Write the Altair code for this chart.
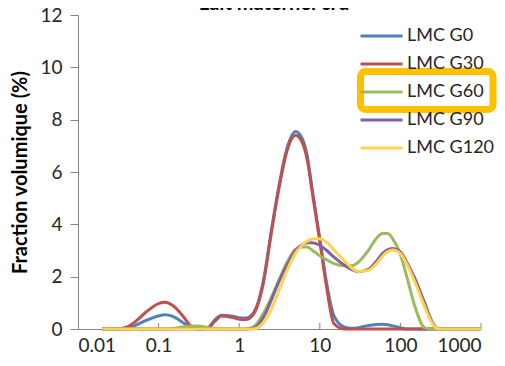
import altair as alt
import pandas as pd

SIZES = [0.02, 0.03, 0.04, 0.05, 0.07, 0.1, 0.12, 0.15, 0.2, 0.25, 0.3, 0.4, 0.5, 0.6, 0.8,
         1, 1.2, 1.5, 2, 2.5, 3, 4, 5, 6, 7, 8, 10, 12, 15, 20, 25, 30, 40, 50, 60, 70, 80,
         100, 120, 150, 200, 250, 300, 400, 500, 700, 1000]

G0 = [0, 0, 0.03, 0.12, 0.33, 0.5, 0.54, 0.48, 0.25, 0.06, 0, 0.02, 0.35, 0.53, 0.5,
      0.43, 0.42, 0.62, 1.85, 3.75, 5.2, 7.0, 7.55, 7.3, 6.6, 5.4, 3.45, 1.85, 0.5, 0.08, 0.03, 0.05, 0.13, 0.17, 0.18, 0.16, 0.12,
      0.05, 0, 0, 0, 0, 0, 0, 0, 0, 0]
G30 = [0, 0, 0.07, 0.25, 0.65, 0.97, 1.02, 0.9, 0.5, 0.12, 0, 0.02, 0.3, 0.5, 0.45,
       0.37, 0.36, 0.56, 1.78, 3.65, 5.1, 6.9, 7.4, 7.15, 6.45, 5.3, 3.35, 1.7, 0.2, 0, 0, 0, 0, 0, 0, 0, 0,
       0, 0, 0, 0, 0, 0, 0, 0, 0, 0]
G60 = [0, 0, 0, 0, 0, 0, 0, 0.02, 0.08, 0.11, 0.11, 0.06, 0, 0, 0,
       0, 0, 0.08, 0.6, 1.2, 1.75, 2.6, 3.05, 3.13, 3.13, 3.02, 2.8, 2.65, 2.5, 2.42, 2.42, 2.55, 3.0, 3.45, 3.65, 3.65, 3.45,
       2.85, 2.0, 0.9, 0.05, 0, 0, 0, 0, 0, 0]
G90 = [0, 0, 0, 0, 0, 0, 0, 0, 0, 0, 0, 0, 0, 0, 0,
       0, 0, 0.03, 0.45, 1.1, 1.7, 2.5, 3.0, 3.22, 3.3, 3.3, 3.2, 3.02, 2.75, 2.45, 2.27, 2.19, 2.28, 2.58, 2.88, 3.03, 3.08,
       2.95, 2.55, 1.95, 1.0, 0.25, 0, 0, 0, 0, 0]
G120 = [0, 0, 0, 0, 0, 0, 0, 0, 0, 0, 0, 0, 0, 0, 0,
        0, 0, 0, 0.25, 0.75, 1.35, 2.3, 2.9, 3.2, 3.36, 3.44, 3.45, 3.33, 3.02, 2.62, 2.33, 2.2, 2.24, 2.48, 2.78, 2.96, 3.02,
        2.88, 2.48, 1.82, 0.85, 0.2, 0, 0, 0, 0, 0]

SERIES = ["LMC G0", "LMC G30", "LMC G60", "LMC G90", "LMC G120"]
COLORS = ["#4F81BD", "#C0504D", "#9BBB59", "#8064A2", "#FFD34F"]
X_TICKS = [0.01, 0.1, 1, 10, 100, 1000]
Y_TICKS = [0, 2, 4, 6, 8, 10, 12]
HIGHLIGHT = ["LMC G60"]
TITLE = ["Lait maternel cru"]

rows = []
for name, vals in zip(SERIES, [G0, G30, G60, G90, G120]):
    for s, v in zip(SIZES, vals):
        rows.append({"series": name, "size": s, "frac": v})
df = pd.DataFrame(rows)

FONT = "Lato"
TXT = "#262626"

x_scale = alt.Scale(type="log", domain=[0.01, 1000])
y_scale = alt.Scale(domain=[0, 12])

lines = alt.Chart(df).mark_line(interpolate="monotone", strokeWidth=3).encode(
    x=alt.X("size:Q", scale=x_scale,
            axis=alt.Axis(values=X_TICKS, format="~g", title=None, ticks=False, tickSize=0,
                          labelPadding=7, grid=False, labelFontSize=19, labelFont=FONT,
                          labelColor=TXT, domainColor="#868686", domainWidth=1)),
    y=alt.Y("frac:Q", scale=y_scale,
            axis=alt.Axis(values=Y_TICKS, title="Fraction volumique (%)", tickSize=8,
                          tickColor="#868686", domainColor="#868686", labelPadding=8,
                          grid=False, labelFontSize=19, labelFont=FONT, labelColor=TXT,
                          titleFont=FONT, titleFontSize=20, titleFontWeight="bold",
                          titleColor="#000000", titlePadding=9)),
    color=alt.Color("series:N", scale=alt.Scale(domain=SERIES, range=COLORS),
                    legend=alt.Legend(orient="none", legendX=281, legendY=7, title=None,
                                      symbolType="stroke", symbolSize=1764,
                                      symbolStrokeWidth=3, labelFontSize=18,
                                      labelFont=FONT, labelColor=TXT, labelOffset=3,
                                      clipHeight=28, rowPadding=0, padding=0)),
    order=alt.Order("size:Q"),
)

tick_df = pd.DataFrame({"t": X_TICKS[1:]})
xticks = alt.Chart(tick_df).mark_rule(color="#868686", strokeWidth=1).encode(
    x=alt.X("t:Q", scale=x_scale),
    y=alt.datum(0),
    y2=alt.datum(0.23),
)

hl = alt.Chart(pd.DataFrame({"label": HIGHLIGHT})).mark_rect(
    fillOpacity=0, stroke="#FFC000", strokeWidth=7, cornerRadius=5
).encode(
    x=alt.value(282.5), x2=alt.value(415), y=alt.value(56.5), y2=alt.value(94.5)
)

title = alt.Chart(pd.DataFrame({"t": TITLE})).mark_text(
    font=FONT, fontSize=20, fontWeight="bold", color="#000000",
    align="center", baseline="bottom"
).encode(text="t:N", x=alt.value(196), y=alt.value(-1))

chart = alt.layer(xticks, lines, hl, title).properties(
    width=403, height=314,
    padding={"left": 70, "top": 7, "right": 16, "bottom": 29},
    autosize="none",
).configure_view(stroke=None)

chart.save("out.html", embed_options={"renderer": "svg", "actions": False})
